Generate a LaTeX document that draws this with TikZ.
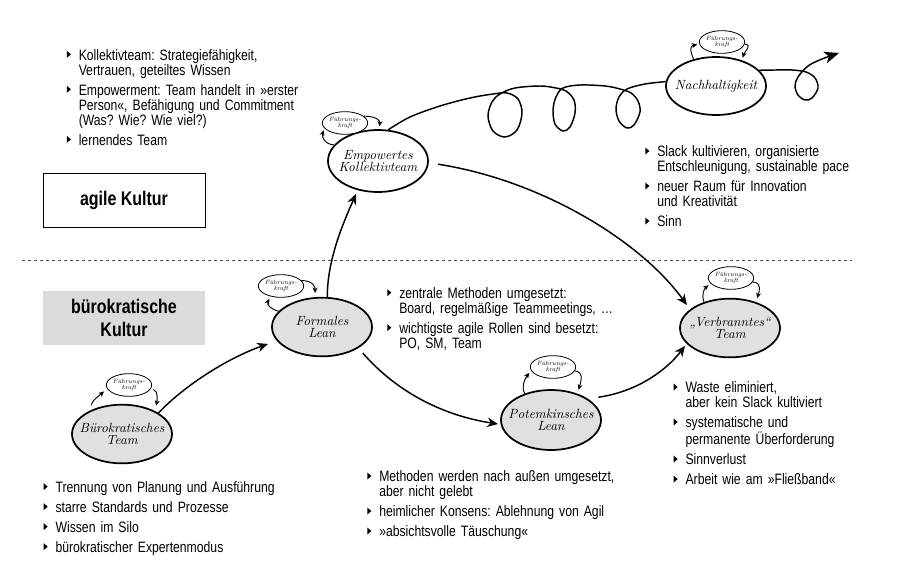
\documentclass[tikz,border=0pt]{standalone}
\usepackage{fontspec}
\usetikzlibrary{shapes.geometric,arrows.meta}
\newfontfamily\cond{Liberation Sans}[FakeStretch=0.81]
\definecolor{nodegray}{gray}{0.88}
\definecolor{boxgray}{gray}{0.86}
\definecolor{dashgray}{gray}{0.3}
\newcommand\bultri{\tikz[baseline=0pt]{\fill[black] (0pt,1.6pt) -- (0pt,6.9pt) -- (3.1pt,4.25pt) -- cycle;}}
\newcommand\bitem[1]{\hangindent=9pt\hangafter=1\noindent\makebox[9pt][l]{\bultri}#1\par}
\begin{document}
\begin{tikzpicture}[x=0.75pt,y=-0.75pt,
  team/.style={ellipse, draw, line width=1.3pt, fill=nodegray, minimum width=75pt, minimum height=44pt, inner xsep=-6pt, inner ysep=0pt, align=center, font=\itshape\addfontfeatures{FakeBold=1.2}\fontsize{10}{9.5}\selectfont},
  teamw/.style={team, fill=white},
  fk/.style={ellipse, draw, line width=0.6pt, fill=white, minimum width=31.5pt, minimum height=17pt, inner sep=0pt, align=center, font=\itshape\addfontfeatures{FakeBold=1}\fontsize{4.6}{4.9}\selectfont},
  conn/.style={line width=1.1pt, -{Stealth[length=8pt,width=7pt,inset=2.5pt]}},
  selfarr/.style={line width=0.7pt, -{Stealth[length=4pt,width=3.6pt,inset=1pt]}},
  loopline/.style={line width=1.1pt},
  dashline/.style={line width=0.5pt, draw=dashgray, dash pattern=on 2.6pt off 1.9pt},
  blk/.style={anchor=base west, inner sep=0pt, text width=220pt, align=left, font=\cond\frenchspacing\fontsize{11.3}{11.25}\selectfont},
  kultur/.style={minimum width=121.5pt, minimum height=40.5pt, inner sep=0pt, align=center, font=\cond\bfseries\fontsize{14.8}{17.25}\selectfont},
]
\useasboundingbox (0,0) rectangle (900,575);
\fill[white] (0,0) rectangle (900,575);

% dashed separator
\coordinate (dl) at (22,260);
\coordinate (dr) at (852,260);
\draw[dashline] (dl) -- (dr);

% culture boxes
\node[kultur, draw, line width=0.6pt] (agile) at (124,200) {agile Kultur};
\node[kultur, fill=boxgray] (buerok) at (124,318) {bürokratische\\Kultur};

% main nodes
\node[team] (buer) at (122,434) {Bürokratisches\\Team};
\node[team] (formal) at (322,327) {Formales\\Lean};
\node[teamw, minimum height=46.5pt] (empow) at (378,161) {Empowertes\\Kollektivteam};
\node[teamw, minimum height=43.5pt] (nach) at (716,86) {Nachhaltigkeit};
\node[team, minimum height=45pt] (potem) at (551,420) {Potemkinsches\\Lean};
\node[team] (verbr) at (730,328) {„Verbranntes“\\Team};

% Fuehrungskraft nodes
\node[fk] (fk1) at (129,385) {Führungs-\\kraft};
\node[fk] (fk2) at (281,286) {Führungs-\\kraft};
\node[fk] (fk3) at (345,123) {Führungs-\\kraft};
\node[fk] (fk4) at (722,42) {Führungs-\\kraft};
\node[fk] (fk5) at (553,367) {Führungs-\\kraft};
\node[fk] (fk6) at (731,278) {Führungs-\\kraft};

% self loops
\draw[selfarr, shorten <=3pt, shorten >=3pt] (buer.140) .. controls +(-2,-8) and +(-6,5) .. (fk1.190);
\draw[selfarr, shorten <=2pt, shorten >=4pt] (fk1.-10) .. controls +(8,2) and +(2,-9) .. (buer.35);
\draw[selfarr, shorten >=2pt] (formal.160) .. controls +(-8,-2) and +(-4,8) .. (fk2.225);
\draw[selfarr, shorten >=3pt] (fk2.15) .. controls +(12,0) and +(0,-10) .. (formal.103);
\draw[selfarr, shorten >=1.5pt] (empow.160) .. controls +(-10,-1) and +(-3,8) .. (fk3.195);
\draw[selfarr, shorten >=2pt] (fk3.20) .. controls +(12,0) and +(1,-9) .. (empow.88);
\draw[selfarr, shorten >=1.5pt] (nach.130) .. controls +(-4,-10) and +(-9,2) .. (fk4.185);
\draw[selfarr, shorten >=2pt] (fk4.-5) .. controls +(8,1) and +(3,-9) .. (nach.45);
\draw[selfarr, shorten >=2pt] (potem.135) .. controls +(-4,-8) and +(-5,6) .. (fk5.190);
\draw[selfarr, shorten >=3pt] (fk5.-10) .. controls +(10,1) and +(3,-10) .. (potem.45);
\draw[selfarr, shorten >=2pt] (verbr.135) .. controls +(-3,-8) and +(-6,5) .. (fk6.195);
\draw[selfarr, shorten >=3pt] (fk6.-10) .. controls +(10,1) and +(3,-10) .. (verbr.45);

% connectors
\draw[conn, shorten >=7pt] (buer.30) .. controls (185,385) and (228,358) .. (formal.197);
\draw[conn, shorten >=3pt] (formal.80) .. controls +(0,-40) and +(-12,28) .. (empow.235);
\draw[conn, shorten <=7pt, shorten >=4pt] (empow.-2) .. controls (540,180) and (640,240) .. (verbr.155);
\draw[conn, shorten <=5pt, shorten >=2pt] (formal.-30) .. controls (395,390) and (440,415) .. (potem.185);
\draw[conn, shorten <=8pt, shorten >=2pt] (potem.30) .. controls (635,392) and (665,372) .. (verbr.200);

% loopy path to Nachhaltigkeit
\draw[loopline] plot[smooth, tension=0.55] coordinates {(empow.72) (410,117) (440,106) (470,98) (493,94) (507,93) (518,99) (522,113) (517,130) (505,137) (493,131) (488,116) (492,102) (500,94) (515,88) (540,86) (556,88) (566,91) (574,100) (575,113) (570,127) (563,131) (555,124) (553,110) (556,97) (563,88) (580,85) (605,86) (620,89) (631,93) (638,101) (640,112) (634,125) (627,128) (619,121) (616,109) (619,97) (627,89) (645,84) (nach.175)};
\coordinate (tipN) at (839,53);
\draw[loopline, -{Stealth[length=11pt,width=9pt,inset=3pt]}] plot[smooth, tension=0.55] coordinates {(nach.20) (775,70) (792,70) (806,72) (815,78) (818,88) (812,98) (805,100) (798,95) (795,86) (798,77) (808,66) (822,59) (tipN)};

% text blocks
\node[blk] (tA) at (66.5,60) {\setlength{\parskip}{3.75pt}%
\bitem{Kollektivteam: Strategiefähigkeit,\newline Vertrauen, geteiltes Wissen}%
\bitem{Empowerment: Team handelt in »erster\newline Person«, Befähigung und Commitment\newline (Was? Wie? Wie viel?)}%
\bitem{lernendes Team}};
\node[blk] (tB) at (645,156.7) {\setlength{\parskip}{3.75pt}%
\bitem{Slack kultivieren, organisierte\newline Entschleunigung, sustainable pace}%
\bitem{neuer Raum für Innovation\newline und Kreativität}%
\bitem{Sinn}};
\node[blk] (tC) at (387,298.3) {\setlength{\parskip}{3.75pt}%
\bitem{zentrale Methoden umgesetzt:\newline Board, regelmäßige Teammeetings, …}%
\bitem{wichtigste agile Rollen sind besetzt:\newline PO, SM, Team}};
\node[blk] (tD) at (367,481.7) {\setlength{\parskip}{3.75pt}%
\bitem{Methoden werden nach außen umgesetzt,\newline aber nicht gelebt}%
\bitem{heimlicher Konsens: Ablehnung von Agil}%
\bitem{»absichtsvolle Täuschung«}};
\node[blk] (tE) at (673.3,392.7) {\setlength{\parskip}{3.75pt}%
\bitem{Waste eliminiert,\newline aber kein Slack kultiviert}%
\bitem{systematische und\newline permanente Überforderung}%
\bitem{Sinnverlust}%
\bitem{Arbeit wie am »Fließband«}};
\node[blk] (tF) at (43.3,492.3) {\setlength{\parskip}{3.75pt}%
\bitem{Trennung von Planung und Ausführung}%
\bitem{starre Standards und Prozesse}%
\bitem{Wissen im Silo}%
\bitem{bürokratischer Expertenmodus}};
\end{tikzpicture}
\end{document}
